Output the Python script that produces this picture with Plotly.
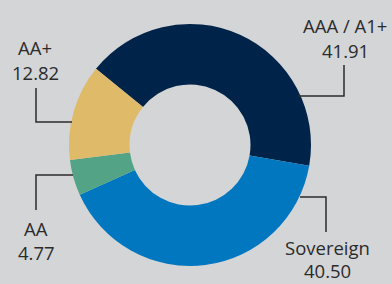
import plotly.graph_objects as go

# ---- data ----
labels = ["AAA / A1+", "Sovereign", "AA", "AA+"]
values = [41.91, 40.50, 4.77, 12.82]
value_text = ["41.91", "40.50", "4.77", "12.82"]

# ---- styles ----
colors = ["#002349", "#0077bf", "#53a387", "#dfba69"]
bg = "#d4d5d7"
W, H = 392, 284

# label layout (pixel positions): name text, value text, leader polyline
label_layout = [
    dict(name_xy=(345, 25), val_xy=(345, 50), line=[(298, 96), (344, 96), (344, 65)]),
    dict(name_xy=(327, 248), val_xy=(327, 270), line=[(300, 197), (326, 197), (326, 232)]),
    dict(name_xy=(36, 228), val_xy=(36, 252), line=[(73, 175), (36, 175), (36, 210)]),
    dict(name_xy=(35, 47), val_xy=(35, 72), line=[(72, 122), (36, 122), (36, 88)]),
]

def px(x):
    return x / W

def py(y):
    return 1 - y / H

fig = go.Figure(go.Pie(
    labels=labels,
    values=values,
    hole=0.5,
    sort=False,
    direction="clockwise",
    rotation=-51,
    marker=dict(colors=colors, line=dict(width=0)),
    textinfo="none",
    hoverinfo="label+value",
    domain=dict(x=[px(69), px(311)], y=[py(266), py(24)]),
    showlegend=False,
))

font = dict(family="Open Sans, Noto Sans, sans-serif", size=18.5, color="#2b2b2b")
annotations = []
shapes = []
for lab, vt, lay in zip(labels, value_text, label_layout):
    annotations.append(dict(x=px(lay["name_xy"][0]), y=py(lay["name_xy"][1]), xref="paper", yref="paper",
                            text=lab, showarrow=False, font=font, xanchor="center", yanchor="middle"))
    annotations.append(dict(x=px(lay["val_xy"][0]), y=py(lay["val_xy"][1]), xref="paper", yref="paper",
                            text=vt, showarrow=False, font=font, xanchor="center", yanchor="middle"))
    pts = lay["line"]
    path = "M " + " L ".join(f"{px(x)},{py(y)}" for x, y in pts)
    shapes.append(dict(type="path", path=path, xref="paper", yref="paper",
                       line=dict(color="#2b2b2b", width=1.5)))

fig.update_layout(
    width=W, height=H,
    margin=dict(l=0, r=0, t=0, b=0),
    paper_bgcolor=bg, plot_bgcolor=bg,
    annotations=annotations,
    shapes=shapes,
)

fig.write_html(
    "out.html",
    config={"displayModeBar": False},
    post_script="document.body.style.margin='0';document.body.style.padding='0';"
                "document.body.style.overflow='hidden';document.body.style.background='%s';" % bg,
)
